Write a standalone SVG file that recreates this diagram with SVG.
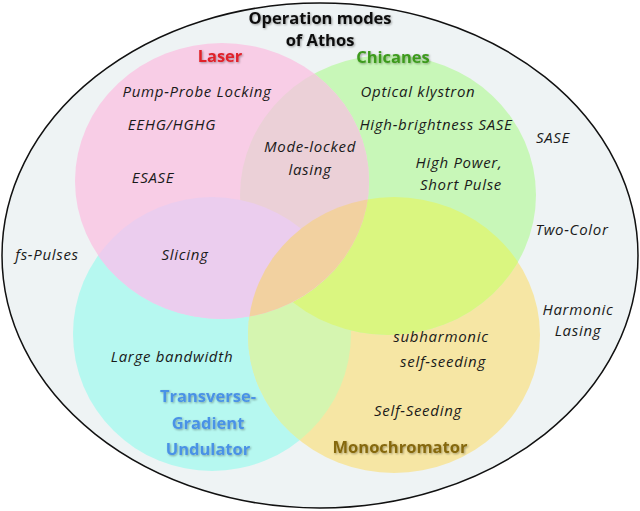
<svg xmlns="http://www.w3.org/2000/svg" width="640" height="511" viewBox="0 0 640 511">
<style>
.lbl{font-family:"Open Sans","Noto Sans","DejaVu Sans",sans-serif;font-style:italic;font-size:15px;letter-spacing:0.7px;fill:#1a1a1a;text-anchor:middle}
.hd{font-family:"Open Sans","Noto Sans","DejaVu Sans",sans-serif;font-weight:bold;font-size:16.5px;text-anchor:middle}
</style>
<defs>
<clipPath id="cPink"><ellipse cx="222" cy="181" rx="147" ry="138"/></clipPath>
<clipPath id="cGreen"><ellipse cx="388" cy="195" rx="148" ry="140"/></clipPath>
<clipPath id="cCyan"><ellipse cx="212" cy="334" rx="139" ry="137"/></clipPath>
<clipPath id="cYellow"><ellipse cx="394" cy="335" rx="146" ry="138"/></clipPath>
<filter id="glow" x="-10%" y="-30%" width="120%" height="160%">
<feGaussianBlur in="SourceAlpha" stdDeviation="1.2"/>
<feOffset dx="0.5" dy="0.8"/>
<feComponentTransfer><feFuncA type="linear" slope="0.35"/></feComponentTransfer>
<feMerge><feMergeNode/><feMergeNode in="SourceGraphic"/></feMerge>
</filter>
</defs>
<g id="outer">
<ellipse cx="320" cy="255.5" rx="318" ry="252.5" fill="#eef3f4" stroke="#111" stroke-width="1.5"/>
</g>
<g id="circles">
<ellipse id="cyan" cx="212" cy="334" rx="139" ry="137" fill="#b6f8f0"/>
<ellipse id="yellow" cx="394" cy="335" rx="146" ry="138" fill="#f6e6a4"/>
<ellipse id="green" cx="388" cy="195" rx="148" ry="140" fill="#c8f7b8"/>
<ellipse id="pink" cx="222" cy="181" rx="147" ry="138" fill="#f8cde6"/>
<g clip-path="url(#cCyan)"><ellipse cx="394" cy="335" rx="146" ry="138" fill="#d5f5b0"/></g>
<g clip-path="url(#cCyan)"><ellipse cx="388" cy="195" rx="148" ry="140" fill="#d5f5b0"/></g>
<g clip-path="url(#cGreen)"><ellipse cx="394" cy="335" rx="146" ry="138" fill="#daf680"/></g>
<g clip-path="url(#cGreen)"><ellipse cx="222" cy="181" rx="147" ry="138" fill="#ebd0d7"/></g>
<g clip-path="url(#cCyan)"><ellipse cx="222" cy="181" rx="147" ry="138" fill="#ebcdee"/></g>
<g clip-path="url(#cYellow)"><ellipse cx="222" cy="181" rx="147" ry="138" fill="#f2d1a0"/></g>
</g>
<g id="connectors"></g>
<g id="title">
<text class="hd" x="320" y="24" fill="#111" filter="url(#glow)">Operation modes</text>
<text class="hd" x="320" y="46" fill="#111" filter="url(#glow)">of Athos</text>
</g>
<g id="laser">
<text class="hd" x="220" y="62" fill="#e0202a" filter="url(#glow)">Laser</text>
<text class="lbl" x="197" y="97">Pump-Probe Locking</text>
<text class="lbl" x="172" y="130">EEHG/HGHG</text>
<text class="lbl" x="153" y="183">ESASE</text>
</g>
<g id="chicanes">
<text class="hd" x="393" y="63" fill="#3d9a1f" filter="url(#glow)">Chicanes</text>
<text class="lbl" x="418" y="97">Optical klystron</text>
<text class="lbl" x="436" y="130">High-brightness SASE</text>
<text class="lbl" x="459" y="168">High Power,</text>
<text class="lbl" x="461" y="190">Short Pulse</text>
</g>
<g id="overlap">
<text class="lbl" x="310" y="152">Mode-locked</text>
<text class="lbl" x="310" y="175">lasing</text>
<text class="lbl" x="185" y="260">Slicing</text>
</g>
<g id="outside">
<text class="lbl" x="553" y="143">SASE</text>
<text class="lbl" x="572" y="235">Two-Color</text>
<text class="lbl" x="47" y="260">fs-Pulses</text>
<text class="lbl" x="578" y="315">Harmonic</text>
<text class="lbl" x="578" y="336">Lasing</text>
</g>
<g id="tgu">
<text class="lbl" x="172" y="362">Large bandwidth</text>
<text class="hd" x="208" y="402" fill="#4a92e6" filter="url(#glow)">Transverse-</text>
<text class="hd" x="208" y="429" fill="#4a92e6" filter="url(#glow)">Gradient</text>
<text class="hd" x="208" y="455" fill="#4a92e6" filter="url(#glow)">Undulator</text>
</g>
<g id="monochromator">
<text class="lbl" x="441" y="342">subharmonic</text>
<text class="lbl" x="443" y="367">self-seeding</text>
<text class="lbl" x="418" y="416">Self-Seeding</text>
<text class="hd" x="400" y="453" fill="#86690f" filter="url(#glow)">Monochromator</text>
</g>
</svg>
